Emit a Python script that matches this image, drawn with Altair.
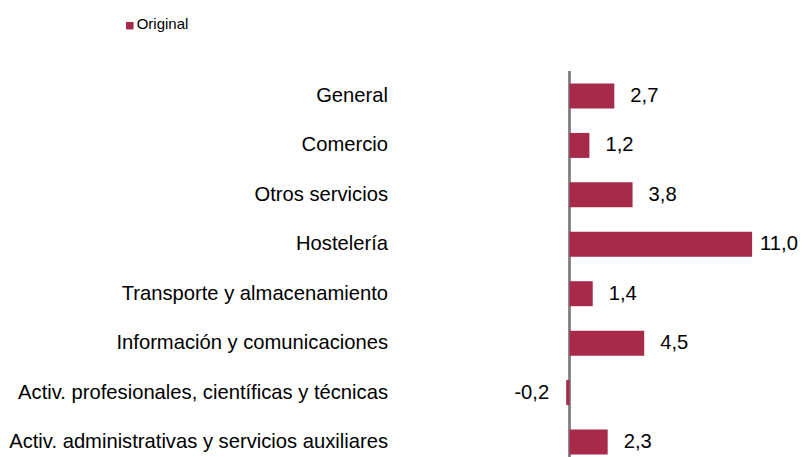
import altair as alt
import pandas as pd

categories = [
    "General",
    "Comercio",
    "Otros servicios",
    "Hostelería",
    "Transporte y almacenamiento",
    "Información y comunicaciones",
    "Activ. profesionales, científicas y técnicas",
    "Activ. administrativas y servicios auxiliares",
]
values = [2.7, 1.2, 3.8, 11.0, 1.4, 4.5, -0.2, 2.3]
series = ["Original"]

df = pd.DataFrame({
    "cat": categories,
    "val": values,
    "zero": [0.0] * len(values),
    "label": [f"{v:.1f}".replace(".", ",") for v in values],
})
leg_df = pd.DataFrame({"serie": series})

FONT = "Liberation Sans"
COLOR = "#A82A4A"
W, H = 792, 449
PXU = 16.6
X0 = 561.5

xs = alt.Scale(domain=[-X0 / PXU, (W - X0) / PXU], nice=False, zero=False)
ys = alt.Scale(type="point", domain=categories, range=[88, 434], padding=0)

x_enc = alt.X("val:Q", scale=xs, axis=None)
y_enc = alt.Y("cat:N", scale=ys, axis=None, sort=categories)

base = alt.Chart(df)

bars = base.mark_bar(size=25, color=COLOR).encode(
    x=x_enc,
    x2="zero:Q",
    y=y_enc,
)

zero = base.mark_rule(color="#7f7f7f", strokeWidth=1.5).encode(
    x=alt.X("zero:Q", scale=xs, axis=None), y=alt.value(63), y2=alt.value(H)
)

txt = dict(baseline="middle", fontSize=20.2, font=FONT, color="#000000")

pos_labels = base.transform_filter("datum.val >= 0 && datum.val < 10").mark_text(
    align="left", dx=16, **txt
).encode(x=x_enc, y=y_enc, text="label:N")

big_labels = base.transform_filter("datum.val >= 10").mark_text(
    align="left", dx=8, **txt
).encode(x=x_enc, y=y_enc, text="label:N")

neg_labels = base.transform_filter("datum.val < 0").mark_text(
    align="right", dx=-17, **txt
).encode(x=x_enc, y=y_enc, text="label:N")

cat_labels = base.mark_text(align="right", **txt).encode(
    x=alt.value(380), y=y_enc, text="cat:N"
)

leg_sym = alt.Chart(leg_df).mark_square(size=56, color=COLOR, opacity=1).encode(
    x=alt.value(121.8), y=alt.value(17.7)
)
leg_txt = alt.Chart(leg_df).mark_text(
    align="left", baseline="alphabetic", fontSize=15, font=FONT, color="#000000"
).encode(x=alt.value(128.7), y=alt.value(21.3), text="serie:N")

chart = alt.layer(
    zero, bars, pos_labels, big_labels, neg_labels, cat_labels, leg_sym, leg_txt
).properties(
    width=W, height=H, padding=0, autosize="none"
).configure_view(stroke=None)

chart.save("out.html", embed_options={"renderer": "svg", "actions": False})
